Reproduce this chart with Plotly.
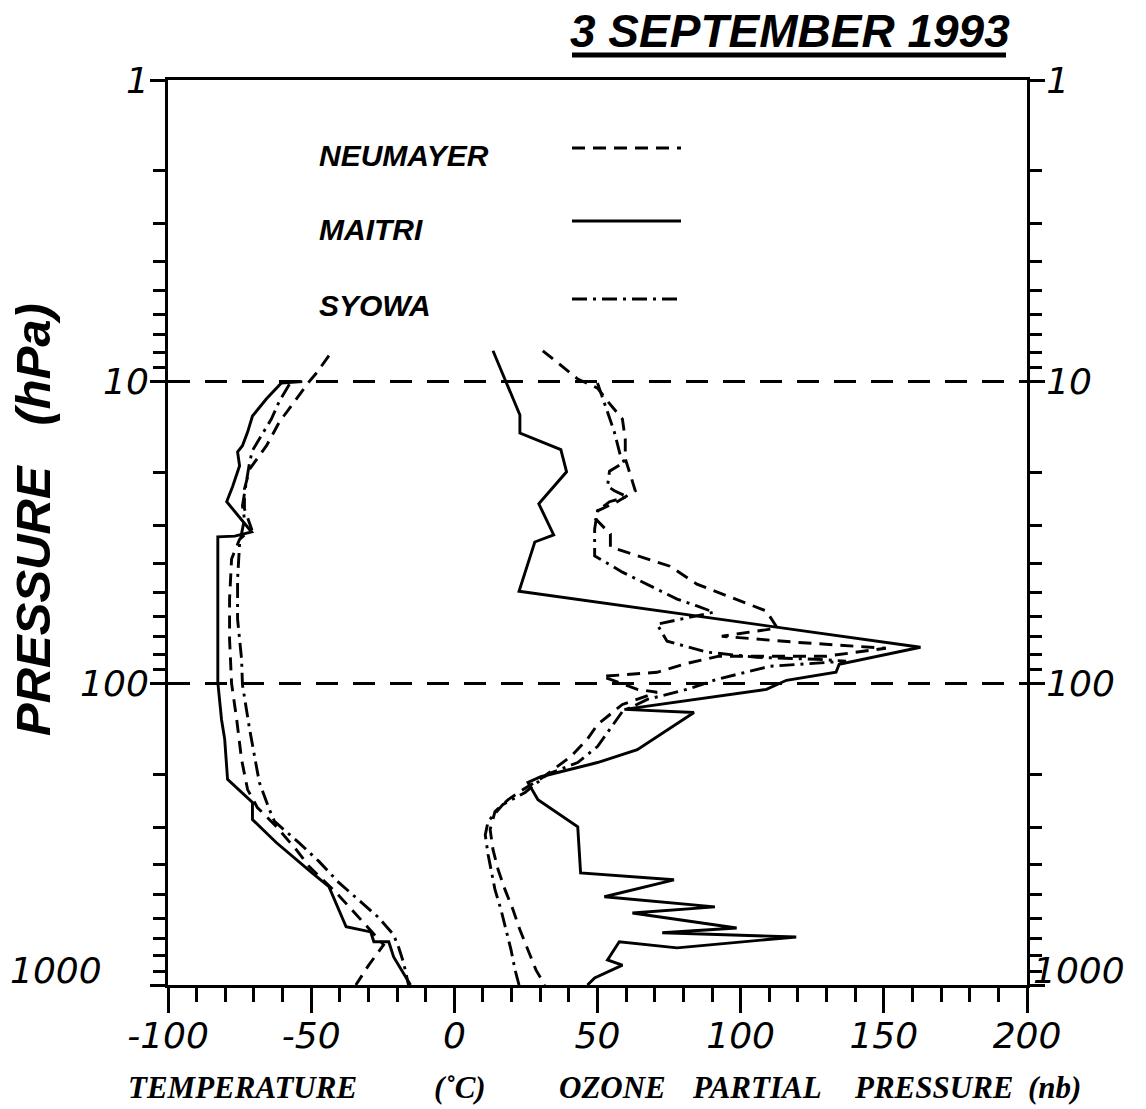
import plotly.graph_objects as go

# ---------------- data ----------------
# Temperature profiles (deg C) vs pressure (hPa)
maitri_t_p = [10.0, 10.1, 11.4, 13.0, 14.7, 16.3, 17.1, 19.0, 22.2, 25.0,
              31.5, 32.5, 32.7, 99.2, 132, 153, 208, 248, 283, 337,
              425, 472, 641, 667, 719, 719, 807, 1000]
maitri_t = [-53.1, -60.4, -65.6, -70.5, -72.2, -74.0, -75.7, -75.0, -77.4, -79.5,
            -70.8, -76.7, -82.6, -82.6, -81.3, -80.2, -79.2, -70.5, -70.5, -62.2,
            -49.7, -43.8, -37.8, -29.2, -28.1, -22.9, -21.2, -15.3]

neumayer_t_p = [8.2, 9.3, 10.0, 11.4, 12.3, 13.6, 16.3, 18.5, 19.5, 22.7,
                26.4, 30.8, 33.3, 38.7, 52.6, 71.4, 100, 132, 179, 225,
                258, 294, 356, 405, 494, 563, 647, 736, 859, 1000]
neumayer_t = [-43.8, -47.9, -50.7, -55.2, -57.6, -61.1, -65.6, -69.8, -71.5, -73.3,
              -73.3, -70.8, -75.0, -77.8, -78.5, -78.5, -77.8, -76.0, -74.3, -72.2,
              -68.8, -62.8, -55.2, -50.7, -41.3, -35.8, -29.9, -24.7, -29.9, -34.4]

syowa_t_p = [10.2, 11.6, 13.3, 15.5, 16.9, 18.5, 20.5, 23.2, 25.8, 28.5,
             34.5, 45.1, 61.3, 83.2, 101, 142, 175, 213, 262, 287,
             338, 390, 458, 522, 598, 682, 753, 845, 1000]
syowa_t = [-57.6, -61.1, -63.9, -68.1, -70.5, -71.5, -72.2, -73.3, -74.0, -73.3,
           -75.0, -75.7, -75.7, -74.3, -74.0, -71.5, -69.8, -68.1, -64.6, -62.8,
           -54.2, -47.2, -40.3, -33.3, -26.4, -21.2, -19.4, -17.7, -16.0]

# Ozone partial pressure profiles (nb) vs pressure (hPa)
maitri_o_p = [7.9, 12.9, 14.8, 16.8, 19.9, 25.4, 32.2, 34.0, 49.5, 75.9,
              86.5, 91.9, 97.7, 104.7, 122, 125, 166, 183, 204, 213,
              243, 299, 425, 448, 510, 551, 577, 647, 671, 693,
              753, 719, 826, 859, 948, 1000]
maitri_o = [13.5, 22.9, 22.9, 37.2, 39.2, 29.5, 34.7, 28.1, 22.6, 162.8,
            134.4, 133.3, 116.0, 109.0, 59.4, 83.7, 63.9, 50.0, 30.2, 25.7,
            29.2, 43.1, 44.1, 76.7, 52.4, 91.0, 62.2, 98.6, 72.6, 119.4,
            77.8, 57.6, 53.5, 58.7, 49.0, 46.5]

neumayer_o_p = [7.9, 9.8, 10.5, 11.6, 13.3, 15.5, 18.0, 23.0, 25.0, 26.8,
                28.5, 32.0, 35.3, 40.9, 46.9, 52.6, 57.6, 65.6, 69.8, 73.1,
                76.5, 81.3, 81.3, 85.9, 91.9, 94.8, 104.7, 107, 117.5, 137,
                153, 175, 205, 225, 243, 266, 305, 356, 415, 483,
                563, 656, 765, 891, 1000]
neumayer_o = [30.9, 43.1, 50.0, 53.5, 58.7, 59.7, 59.7, 63.2, 56.9, 50.0,
              49.3, 54.5, 54.5, 75.3, 84.7, 98.6, 109.0, 112.8, 93.4, 119.4,
              150.7, 129.9, 92.4, 81.2, 70.8, 51.7, 63.9, 70.8, 58.7, 50.0,
              46.5, 40.6, 30.9, 24.0, 18.8, 14.2, 12.5, 13.5, 15.3, 17.7,
              20.5, 22.9, 25.7, 28.5, 31.6]

syowa_o_p = [10.1, 13.3, 14.7, 17.6, 18.5, 19.8, 22.2, 23.0, 24.1, 25.0,
             26.8, 30.8, 37.8, 42.8, 46.9, 52.6, 55.4, 58.1, 63.7, 72.5,
             78.8, 82.0, 83.2, 84.4, 87.8, 97.0, 104.7, 113, 124, 135,
             162, 183, 200, 230, 252, 287, 318, 370, 415, 483,
             563, 656, 765, 891, 1000]
syowa_o = [50.0, 54.2, 55.9, 58.0, 59.4, 54.2, 53.5, 55.9, 60.4, 54.2,
           50.0, 49.0, 49.0, 58.7, 67.4, 77.8, 84.7, 90.6, 70.8, 74.3,
           88.2, 105.6, 126.4, 136.8, 110.1, 91.7, 81.3, 67.4, 58.7, 55.9,
           50.0, 43.1, 32.6, 24.7, 17.0, 11.8, 10.8, 11.8, 12.8, 14.2,
           16.3, 18.1, 19.8, 21.2, 22.6]

stations = ["NEUMAYER", "MAITRI", "SYOWA"]

x_tickvals = [-100, -50, 0, 50, 100, 150, 200]
x_ticktext = ["-100", "-50", "0", "50", "100", "150", "200"]
y_tickvals = [1, 10, 100, 1000]
y_ticktext = ["1", "10", "100", ""]
y_minor = [2, 3, 4, 5, 6, 7, 8, 9, 20, 30, 40, 50, 60, 70, 80, 90,
           200, 300, 400, 500, 600, 700, 800, 900]

# ---------------- styling ----------------
W, H = 1146, 1109
ML, MR, MT, MB = 168, 119, 80, 124
PW, PH = W - ML - MR, H - MT - MB


def fx(px):
    return (px - ML) / PW


def fy(py):
    return (H - MB - py) / PH


DASH_N = "13px,8px"
DASH_S = "15px,6px,3px,6px"
LW = 2.9
styles = {"NEUMAYER": dict(color="black", width=LW, dash=DASH_N),
          "MAITRI": dict(color="black", width=LW, dash="solid"),
          "SYOWA": dict(color="black", width=LW, dash=DASH_S)}

fig = go.Figure()
profiles = [("NEUMAYER", neumayer_t, neumayer_t_p), ("MAITRI", maitri_t, maitri_t_p),
            ("SYOWA", syowa_t, syowa_t_p),
            ("NEUMAYER", neumayer_o, neumayer_o_p), ("MAITRI", maitri_o, maitri_o_p),
            ("SYOWA", syowa_o, syowa_o_p)]
for name, xs, ps in profiles:
    fig.add_trace(go.Scatter(x=xs, y=ps, mode="lines", name=name,
                             line=styles[name], hoverinfo="skip",
                             showlegend=False))
# empty trace so that the right-hand pressure axis is drawn
fig.add_trace(go.Scatter(x=[None], y=[None], yaxis="y2", mode="lines",
                         hoverinfo="skip", showlegend=False))

tickfont = dict(family="DejaVu Sans", size=36, color="black", style="italic")
sans_bi = dict(family="Liberation Sans", color="black", weight="bold", style="italic")
serif_bi = dict(family="Liberation Serif", color="black", weight="bold", style="italic")

yaxis_common = dict(type="log", range=[3, 0], tickvals=y_tickvals, ticktext=y_ticktext,
                    ticks="outside", ticklen=15, tickwidth=3, tickcolor="black",
                    showline=True, linewidth=3, linecolor="black",
                    tickfont=tickfont, zeroline=False, ticklabelstandoff=-6,
                    minor=dict(tickvals=y_minor, ticks="outside", ticklen=12,
                               tickwidth=2.5, tickcolor="black", showgrid=False))

fig.update_layout(
    width=W, height=H,
    margin=dict(l=ML, r=MR, t=MT, b=MB, pad=0),
    paper_bgcolor="white", plot_bgcolor="white",
    showlegend=False, hovermode=False,
    xaxis=dict(range=[-100, 200], tickvals=x_tickvals, ticktext=x_ticktext,
               ticks="outside", ticklen=25, tickwidth=3, tickcolor="black",
               showline=True, mirror=True, linewidth=3, linecolor="black",
               showgrid=False, zeroline=False, tickfont=tickfont,
               ticklabelstandoff=-8,
               minor=dict(dtick=10, ticks="outside", ticklen=14, tickwidth=2.5,
                          tickcolor="black", showgrid=False)),
    yaxis=dict(**yaxis_common, side="left", showgrid=True, gridcolor="black",
               gridwidth=3, griddash="22px,15px"),
    yaxis2=dict(**yaxis_common, side="right", overlaying="y", anchor="x",
                showgrid=False),
)

ann = []
# title
ann.append(dict(text="3 SEPTEMBER 1993", xref="paper", yref="paper",
                x=fx(568), y=fy(31), xanchor="left", yanchor="middle",
                showarrow=False, font=dict(**sans_bi, size=46)))
# y-axis title
ann.append(dict(text="PRESSURE\u00a0\u00a0\u00a0(hPa)", xref="paper", yref="paper",
                x=fx(33), y=fy(520), xanchor="center", yanchor="middle",
                textangle=-90, showarrow=False, font=dict(**sans_bi, size=49)))
# x-axis title pieces
for txt, px in [("TEMPERATURE", 126), ("(\u02daC)", 432), ("OZONE", 557),
                ("PARTIAL", 690), ("PRESSURE", 852), ("(nb)", 1026)]:
    ann.append(dict(text=txt, xref="paper", yref="paper", x=fx(px), y=fy(1087),
                    xanchor="left", yanchor="middle", showarrow=False,
                    font=dict(**serif_bi, size=31)))
# 1000 labels (sit a little above the bottom tick)
ann.append(dict(text="1000", xref="paper", yref="y", x=fx(104), y=3, yshift=15,
                xanchor="right", yanchor="middle", showarrow=False, font=tickfont))
ann.append(dict(text="1000", xref="paper", yref="y", x=fx(1031), y=3, yshift=15,
                xanchor="left", yanchor="middle", showarrow=False, font=tickfont))
# legend texts
for name, py in zip(stations, [155, 229, 305]):
    ann.append(dict(text=name, xref="paper", yref="paper", x=fx(317), y=fy(py),
                    xanchor="left", yanchor="middle", showarrow=False,
                    font=dict(**sans_bi, size=30)))
fig.update_layout(annotations=ann)

shapes = []
# underline of the title
shapes.append(dict(type="line", xref="paper", yref="paper", x0=fx(572), x1=fx(1006),
                   y0=fy(55), y1=fy(55), line=dict(color="black", width=5)))
# legend line samples
for name, py in zip(stations, [148, 221, 299]):
    shapes.append(dict(type="line", xref="paper", yref="paper", x0=fx(572), x1=fx(681),
                       y0=fy(py), y1=fy(py), line=styles[name]))
fig.update_layout(shapes=shapes)

fig.write_html("out.html")
